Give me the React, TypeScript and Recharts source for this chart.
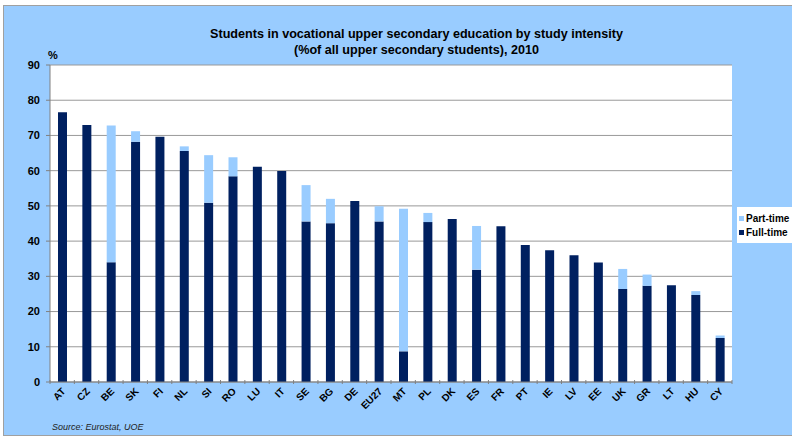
import { BarChart, Bar, XAxis, YAxis, CartesianGrid, Legend } from 'recharts';

const countries = ['AT', 'CZ', 'BE', 'SK', 'FI', 'NL', 'SI', 'RO', 'LU', 'IT', 'SE', 'BG', 'DE', 'EU27', 'MT', 'PL', 'DK', 'ES', 'FR', 'PT', 'IE', 'LV', 'EE', 'UK', 'GR', 'LT', 'HU', 'CY'];
const fullTime = [76.6, 73.0, 34.0, 68.2, 69.6, 65.6, 50.9, 58.4, 61.1, 59.9, 45.6, 45.1, 51.4, 45.6, 8.7, 45.4, 46.3, 31.9, 44.2, 38.9, 37.4, 36.0, 33.9, 26.4, 27.3, 27.5, 24.7, 12.5];
const partTime = [0, 0, 38.8, 3.0, 0, 1.3, 13.5, 5.4, 0, 0, 10.3, 6.9, 0, 4.3, 40.5, 2.6, 0, 12.4, 0, 0, 0, 0, 0, 5.7, 3.2, 0, 1.1, 0.7];
const yTicks = [0, 10, 20, 30, 40, 50, 60, 70, 80, 90];

const data = countries.map((c, i) => ({ country: c, full: fullTime[i], part: partTime[i] }));

const NAVY = '#002060';
const LIGHT = '#99CCFF';
const FONT = '"Liberation Sans", Arial, sans-serif';

const W = 792;
const H = 438;
const LEFT = 50;
const RIGHT = 732;
const BAND = (RIGHT - LEFT) / countries.length;

// rotated country label plus a tick mark on the band boundary
function CountryTick(props: any) {
  const { x, y, payload, index } = props;
  return (
    <g>
      <line x1={x - BAND / 2} y1={y - 8} x2={x - BAND / 2} y2={y - 4} stroke="#808080" />
      {index === countries.length - 1 && (
        <line x1={x + BAND / 2} y1={y - 8} x2={x + BAND / 2} y2={y - 4} stroke="#808080" />
      )}
      <text
        x={x + 4}
        y={y + 4}
        transform={`rotate(-45 ${x + 4} ${y + 4})`}
        textAnchor="end"
        fontSize={10}
        fontWeight="bold"
        fontFamily={FONT}
        fill="#000"
      >
        {payload.value}
      </text>
    </g>
  );
}

function LegendBox(props: any) {
  const items = [...(props.payload || [])].reverse();
  return (
    <div style={{ background: '#fff', width: 55, padding: '4px 0 4px 2px', fontFamily: FONT, boxSizing: 'border-box' }}>
      {items.map((it: any) => (
        <div key={it.value} style={{ display: 'flex', alignItems: 'center', height: 14, fontSize: 10, fontWeight: 'bold', color: '#000' }}>
          <span style={{ width: 5, height: 5, background: it.color, marginRight: 2 }} />
          {it.value}
        </div>
      ))}
    </div>
  );
}

export default function App() {
  return (
    <div style={{ position: 'fixed', left: 0, top: 0, width: W, height: H, background: '#fff' }}>
      <div
        style={{
          position: 'absolute',
          left: 3,
          top: 5,
          width: W - 3,
          height: H - 7,
          background: LIGHT,
          borderLeft: '1px solid #a0a0a0',
          borderTop: '1px solid #a0a0a0',
          borderBottom: '1px solid #a0a0a0',
          boxSizing: 'border-box',
        }}
      />
      <div
        style={{
          position: 'absolute',
          left: 0,
          width: 833,
          top: 26,
          textAlign: 'center',
          fontFamily: FONT,
          fontWeight: 'bold',
          fontSize: 12.6,
          lineHeight: '16px',
          color: '#000',
        }}
      >
        Students in vocational upper secondary education by study intensity
        <br />
        (%of all upper secondary students), 2010
      </div>
      <div style={{ position: 'absolute', left: 48, top: 49, fontFamily: FONT, fontWeight: 'bold', fontSize: 11 }}>%</div>
      <div style={{ position: 'absolute', left: 52, top: 422, fontFamily: FONT, fontStyle: 'italic', fontSize: 9, color: '#222' }}>
        Source: Eurostat, UOE
      </div>
      <div style={{ position: 'absolute', left: 0, top: 0 }}>
        <BarChart
          width={W}
          height={H}
          data={data}
          margin={{ top: 65, right: W - RIGHT, bottom: 0, left: 5 }}
          barSize={9}
        >
          <CartesianGrid vertical={false} stroke="#999" fill="#fff" fillOpacity={1} />
          <XAxis
            dataKey="country"
            height={H - 382}
            interval={0}
            tickLine={false}
            axisLine={{ stroke: '#808080' }}
            tick={<CountryTick />}
            tickMargin={0}
          />
          <YAxis
            width={45}
            domain={[0, 90]}
            ticks={yTicks}
            interval={0}
            tickSize={4}
            tickMargin={6}
            tickLine={{ stroke: '#808080' }}
            axisLine={{ stroke: '#808080' }}
            tick={{ fontSize: 11, fontWeight: 'bold', fill: '#000', fontFamily: FONT }}
          />
          <Legend
            layout="horizontal"
            align="center"
            verticalAlign="middle"
            wrapperStyle={{ position: 'absolute', left: 737, top: 207, width: 55 }}
            content={<LegendBox />}
          />
          <Bar dataKey="full" name="Full-time" stackId="a" fill={NAVY} isAnimationActive={false} />
          <Bar dataKey="part" name="Part-time" stackId="a" fill={LIGHT} isAnimationActive={false} />
        </BarChart>
      </div>
    </div>
  );
}
